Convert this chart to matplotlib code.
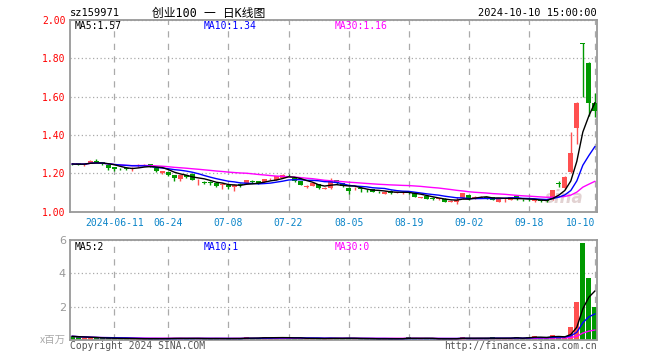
import numpy as np
import pandas as pd
import matplotlib
matplotlib.use('Agg')
import matplotlib.pyplot as plt

# trading days shown on the chart (2024-05-30 .. 2024-10-10)
dates = pd.bdate_range('2024-05-30', '2024-10-10')
holidays = pd.to_datetime(['2024-06-10', '2024-09-16', '2024-09-17',
                           '2024-10-01', '2024-10-02', '2024-10-03',
                           '2024-10-04', '2024-10-07'])
dates = dates[~dates.isin(holidays)]

opens = [1.250, 1.252, 1.242, 1.255, 1.264, 1.256, 1.244, 1.232, 1.224, 1.226,
         1.222, 1.236, 1.238, 1.246, 1.226, 1.200, 1.204, 1.190, 1.170, 1.190,
         1.198, 1.162, 1.154, 1.152, 1.150, 1.140, 1.138, 1.130, 1.142, 1.148,
         1.158, 1.158, 1.152, 1.168, 1.164, 1.177, 1.192, 1.176, 1.158, 1.128,
         1.134, 1.142, 1.118, 1.122, 1.164, 1.148, 1.125, 1.115, 1.122, 1.114,
         1.116, 1.104, 1.092, 1.108, 1.096, 1.095, 1.102, 1.095, 1.072, 1.080,
         1.070, 1.064, 1.064, 1.050, 1.052, 1.068, 1.086, 1.072, 1.073, 1.074,
         1.076, 1.052, 1.064, 1.062, 1.080, 1.062, 1.062, 1.056, 1.058, 1.058,
         1.064, 1.148, 1.124, 1.204, 1.438, 1.882, 1.777, 1.565]
highs = [1.255, 1.255, 1.252, 1.268, 1.273, 1.258, 1.246, 1.234, 1.228, 1.230,
         1.232, 1.246, 1.247, 1.250, 1.228, 1.214, 1.208, 1.192, 1.192, 1.192,
         1.200, 1.170, 1.160, 1.158, 1.152, 1.150, 1.140, 1.142, 1.147, 1.164,
         1.162, 1.160, 1.170, 1.176, 1.186, 1.195, 1.196, 1.178, 1.160, 1.140,
         1.152, 1.144, 1.126, 1.176, 1.166, 1.150, 1.126, 1.126, 1.126, 1.116,
         1.118, 1.106, 1.106, 1.110, 1.104, 1.103, 1.106, 1.097, 1.077, 1.082,
         1.074, 1.072, 1.068, 1.058, 1.076, 1.096, 1.088, 1.080, 1.082, 1.078,
         1.078, 1.070, 1.072, 1.076, 1.082, 1.066, 1.066, 1.066, 1.062, 1.062,
         1.114, 1.160, 1.184, 1.414, 1.570, 1.882, 1.780, 1.620]
lows = [1.243, 1.242, 1.235, 1.252, 1.256, 1.244, 1.217, 1.210, 1.218, 1.218,
        1.212, 1.234, 1.236, 1.230, 1.208, 1.198, 1.186, 1.160, 1.160, 1.176,
        1.162, 1.140, 1.143, 1.140, 1.130, 1.120, 1.118, 1.105, 1.130, 1.146,
        1.150, 1.142, 1.150, 1.164, 1.162, 1.175, 1.186, 1.155, 1.136, 1.124,
        1.132, 1.118, 1.116, 1.120, 1.145, 1.128, 1.092, 1.110, 1.104, 1.100,
        1.100, 1.096, 1.090, 1.093, 1.094, 1.093, 1.092, 1.074, 1.070, 1.063,
        1.062, 1.062, 1.048, 1.048, 1.040, 1.066, 1.062, 1.066, 1.068, 1.066,
        1.058, 1.048, 1.052, 1.060, 1.062, 1.054, 1.054, 1.052, 1.050, 1.050,
        1.060, 1.127, 1.120, 1.200, 1.352, 1.600, 1.497, 1.494]
closes = [1.248, 1.246, 1.248, 1.265, 1.261, 1.246, 1.228, 1.222, 1.222, 1.224,
          1.226, 1.244, 1.245, 1.234, 1.212, 1.212, 1.192, 1.175, 1.190, 1.180,
          1.166, 1.166, 1.150, 1.148, 1.134, 1.145, 1.126, 1.140, 1.138, 1.162,
          1.155, 1.144, 1.168, 1.171, 1.184, 1.193, 1.189, 1.157, 1.138, 1.132,
          1.150, 1.122, 1.122, 1.160, 1.147, 1.131, 1.108, 1.120, 1.118, 1.110,
          1.103, 1.101, 1.104, 1.096, 1.100, 1.101, 1.099, 1.078, 1.075, 1.066,
          1.067, 1.068, 1.050, 1.054, 1.058, 1.094, 1.066, 1.076, 1.077, 1.071,
          1.062, 1.068, 1.067, 1.074, 1.066, 1.059, 1.059, 1.060, 1.055, 1.055,
          1.112, 1.144, 1.182, 1.304, 1.568, 1.876, 1.564, 1.526]
# volume, millions
volumes = [0.22, 0.18, 0.15, 0.12, 0.10, 0.10, 0.12, 0.10, 0.08, 0.08,
           0.08, 0.08, 0.07, 0.08, 0.09, 0.08, 0.10, 0.12, 0.10, 0.08,
           0.09, 0.10, 0.08, 0.08, 0.09, 0.08, 0.09, 0.10, 0.09, 0.18,
           0.10, 0.12, 0.18, 0.10, 0.20, 0.12, 0.10, 0.12, 0.10, 0.08,
           0.10, 0.09, 0.08, 0.14, 0.10, 0.09, 0.12, 0.08, 0.08, 0.07,
           0.07, 0.07, 0.08, 0.08, 0.07, 0.08, 0.20, 0.09, 0.07, 0.08,
           0.07, 0.07, 0.08, 0.07, 0.09, 0.20, 0.10, 0.08, 0.08, 0.09,
           0.20, 0.09, 0.08, 0.09, 0.20, 0.09, 0.20, 0.26, 0.10, 0.12,
           0.32, 0.26, 0.15, 0.80, 2.30, 5.84, 3.74, 2.00]

tick_dates = ['2024-06-11', '2024-06-24', '2024-07-08', '2024-07-22', '2024-08-05',
              '2024-08-19', '2024-09-02', '2024-09-18', '2024-10-10']
tick_labels = ['2024-06-11', '06-24', '07-08', '07-22', '08-05',
               '08-19', '09-02', '09-18', '10-10']
price_ticks = [1.0, 1.2, 1.4, 1.6, 1.8, 2.0]
vol_ticks = [2, 4, 6]

UP = '#ff5050'
DOWN = '#009900'
MONO = 'DejaVu Sans Mono'
CJK = [MONO, 'Noto Sans CJK SC', 'DejaVu Sans']

W, H = 660, 360


def frac(x0, y0, x1, y1):
    # pixel box -> figure fraction rect
    return [x0 / W, 1 - y1 / H, (x1 - x0) / W, (y1 - y0) / H]


def px(x, y):
    return x / W, 1 - y / H


def style_axes(ax, xt):
    for s in ax.spines.values():
        s.set_color('#999999')
        s.set_linewidth(1.3)
    ax.set_xlim(-0.38, len(dates) - 0.64)
    ax.set_xticks(xt)
    ax.grid(axis='x', color='#aaaaaa', linestyle=(0, (5, 5)), linewidth=0.9)
    ax.grid(axis='y', color='#aaaaaa', linestyle=(0, (1, 2)), linewidth=0.9)
    ax.tick_params(length=0)
    ax.set_axisbelow(True)


df = pd.DataFrame({'o': opens, 'h': highs, 'l': lows, 'c': closes, 'v': volumes})
idx = np.arange(len(df))
up = df.c >= df.o
colors = np.where(up, UP, DOWN)
xt = [int(np.where(dates == pd.Timestamp(d))[0][0]) for d in tick_dates]

fig = plt.figure(figsize=(6.6, 3.6), dpi=100)
ax = fig.add_axes(frac(70, 20, 597, 211.5))
axv = fig.add_axes(frac(70, 240, 597, 340))

# price panel
style_axes(ax, xt)
ax.set_ylim(1.0, 2.0)
ax.set_yticks(price_ticks)
ax.set_yticklabels(['%.2f' % t for t in price_ticks], color='#ff0000',
                   fontsize=7, family=MONO)
ax.set_xticklabels(tick_labels, color='#0a84c8', fontsize=7, family=MONO)
ax.get_xticklabels()[-1].set_ha('right')
ax.tick_params(axis='x', pad=5)
ax.tick_params(axis='y', pad=3)

# faint watermark
ax.text(0.975, 0.07, 'sina', transform=ax.transAxes, fontsize=12,
        fontweight='bold', style='italic', color='#e2d2d2',
        ha='right', va='center', zorder=1)

ax.vlines(idx, df.l, df.h, colors=colors, linewidth=1, zorder=2)
body = (df.c - df.o).abs().clip(lower=0.002)
ax.bar(idx, body, bottom=df[['o', 'c']].min(axis=1), width=0.78,
       color=colors, zorder=3)

ma5 = df.c.rolling(5, min_periods=1).mean()
ma10 = df.c.rolling(10, min_periods=1).mean()
ma30 = df.c.rolling(30, min_periods=1).mean()
ax.plot(idx, ma30, color='#ff00ff', lw=1.0, zorder=4)
ax.plot(idx, ma10, color='#0000ff', lw=1.0, zorder=4)
ax.plot(idx, ma5, color='black', lw=1.0, zorder=5)

# volume panel
style_axes(axv, xt)
axv.set_ylim(0, 6)
axv.set_yticks(vol_ticks)
axv.set_yticklabels([str(t) for t in vol_ticks], color='#999999', fontsize=8)
axv.set_xticklabels([])
axv.tick_params(axis='y', pad=3)
axv.bar(idx, df.v, width=0.78, color=colors, zorder=2)
vma5 = df.v.rolling(5, min_periods=1).mean()
vma10 = df.v.rolling(10, min_periods=1).mean()
vma30 = df.v.rolling(30, min_periods=1).mean()
axv.plot(idx, vma30, color='#ff00ff', lw=1.0, zorder=4)
axv.plot(idx, vma10, color='#0000ff', lw=1.0, zorder=4)
axv.plot(idx, vma5, color='black', lw=1.0, zorder=5)

# texts
fig.text(*px(70, 13), 'sz159971', fontsize=7.5, family=MONO, va='center')
fig.text(*px(209, 13), '创业100 一 日K线图', fontsize=8.5, family=CJK,
         ha='center', va='center')
fig.text(*px(597, 13), '2024-10-10 15:00:00', fontsize=7.5, family=MONO,
         ha='right', va='center')

ma_cols = ['black', '#0000ff', '#ff00ff']
for xx, s, c in zip([75, 204, 335], ['MA5:1.57', 'MA10:1.34', 'MA30:1.16'], ma_cols):
    fig.text(*px(xx, 26), s, fontsize=7, family=MONO, color=c, va='center')
for xx, s, c in zip([75, 204, 335], ['MA5:2', 'MA10:1', 'MA30:0'], ma_cols):
    fig.text(*px(xx, 246.5), s, fontsize=7, family=MONO, color=c, va='center')

fig.text(*px(66, 340), 'x百万', fontsize=7.5, family=['Noto Sans CJK SC', 'DejaVu Sans'],
         color='#aaaaaa', ha='right', va='center')
fig.text(*px(70, 346), 'Copyright 2024 SINA.COM', fontsize=7, family=MONO,
         color='#555555', va='center')
fig.text(*px(597, 346), 'http://finance.sina.com.cn', fontsize=7, family=MONO,
         color='#555555', ha='right', va='center')

fig.savefig('out.png', dpi=100)
